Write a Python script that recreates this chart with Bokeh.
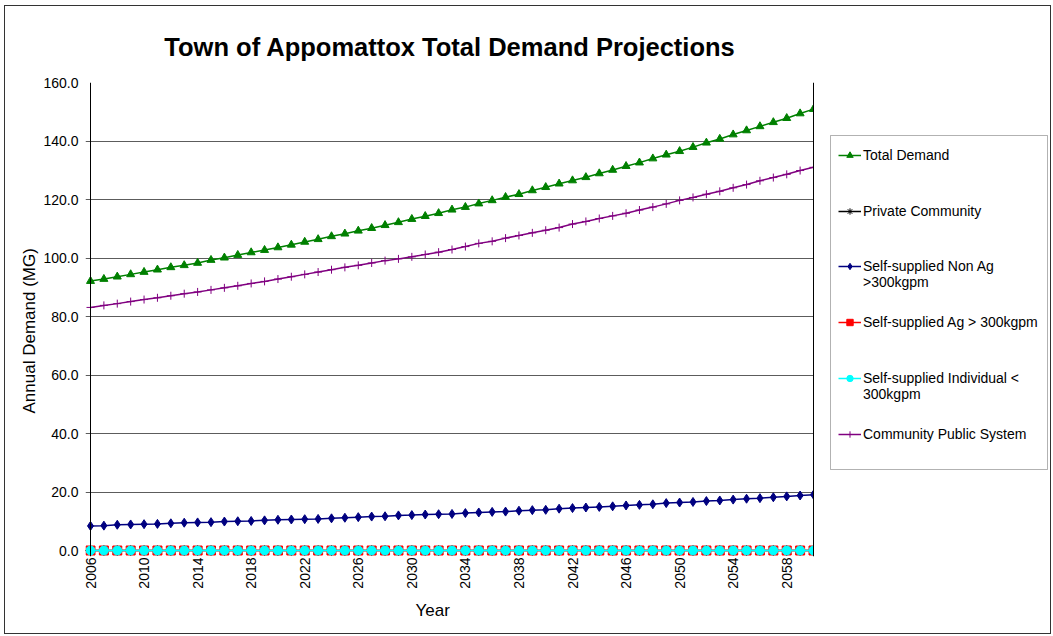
from math import pi

from bokeh.embed import file_html
from bokeh.layouts import row
from bokeh.models import (BoxAnnotation, FixedTicker, Legend, LegendItem,
                          NumeralTickFormatter, Range1d, Span, Title)
from bokeh.plotting import figure
from bokeh.resources import INLINE

# ---- data -----------------------------------------------------------------
years = [2006, 2007, 2008, 2009, 2010, 2011, 2012, 2013, 2014, 2015,
         2016, 2017, 2018, 2019, 2020, 2021, 2022, 2023, 2024, 2025,
         2026, 2027, 2028, 2029, 2030, 2031, 2032, 2033, 2034, 2035,
         2036, 2037, 2038, 2039, 2040, 2041, 2042, 2043, 2044, 2045,
         2046, 2047, 2048, 2049, 2050, 2051, 2052, 2053, 2054, 2055,
         2056, 2057, 2058, 2059, 2060]

total_demand = [92.1, 92.8, 93.6, 94.4, 95.2, 96.0, 96.8, 97.5, 98.3, 99.3,
                100.1, 101.0, 101.9, 102.7, 103.6, 104.5, 105.5, 106.4, 107.4, 108.3,
                109.3, 110.2, 111.2, 112.2, 113.3, 114.3, 115.3, 116.5, 117.4, 118.6,
                119.7, 120.8, 121.8, 123.1, 124.2, 125.4, 126.5, 127.6, 128.9, 130.1,
                131.4, 132.6, 134.0, 135.3, 136.5, 137.9, 139.4, 140.7, 142.2, 143.6,
                145.0, 146.4, 147.8, 149.4, 150.9]

private_community = [0.0] * len(years)

self_non_ag = [8.4, 8.5, 8.8, 8.9, 9.0, 9.1, 9.3, 9.5, 9.6, 9.7,
               9.9, 10.0, 10.1, 10.3, 10.5, 10.6, 10.7, 10.8, 11.0, 11.2,
               11.4, 11.6, 11.7, 12.0, 12.1, 12.3, 12.4, 12.5, 12.8, 13.0,
               13.2, 13.3, 13.6, 13.8, 13.9, 14.3, 14.5, 14.7, 14.9, 15.1,
               15.4, 15.6, 15.8, 16.2, 16.4, 16.6, 16.9, 17.1, 17.4, 17.7,
               17.9, 18.2, 18.5, 18.8, 19.1]

self_ag = [0.0] * len(years)

self_individual = [0.0] * len(years)

community_public = [83.1, 83.8, 84.4, 85.1, 85.8, 86.4, 87.1, 87.8, 88.4, 89.1,
                    89.8, 90.5, 91.3, 92.0, 92.8, 93.6, 94.4, 95.2, 96.0, 96.8,
                    97.5, 98.3, 99.1, 99.7, 100.4, 101.2, 102.0, 102.9, 103.9, 105.0,
                    105.7, 106.8, 107.7, 108.6, 109.5, 110.4, 111.6, 112.5, 113.5, 114.4,
                    115.3, 116.4, 117.4, 118.5, 119.7, 120.7, 121.8, 122.8, 124.0, 125.1,
                    126.4, 127.5, 128.6, 129.9, 131.0]

x_tick_years = [2006, 2010, 2014, 2018, 2022, 2026, 2030, 2034, 2038, 2042,
                2046, 2050, 2054, 2058]
y_ticks = [0, 20, 40, 60, 80, 100, 120, 140, 160]

FONT = "Liberation Sans"

# ---- geometry ---------------------------------------------------------------
# plot area is 723 px wide for the year span and 468 px tall for 0..160;
# the frame is padded a few pixels so edge markers are not cut in half
X0, X1, Y0, Y1 = years[0], years[-1], y_ticks[0], y_ticks[-1]
px_per_year = 723 / (X1 - X0)
px_per_unit = 468 / (Y1 - Y0)
PAD_L, PAD_R, PAD_B = 5, 1, 6
FULL_H = 627
BORDER_T, BORDER_B = 76, 77

p = figure(width=809, height=FULL_H, output_backend="svg", toolbar_location=None,
           x_range=Range1d(X0 - PAD_L / px_per_year, X1 + PAD_R / px_per_year),
           y_range=Range1d(Y0 - PAD_B / px_per_unit, Y1),
           min_border_left=80, min_border_right=0,
           min_border_top=BORDER_T, min_border_bottom=BORDER_B)
p.background_fill_color = "white"
p.border_fill_color = "white"
p.outline_line_color = None

p.add_layout(Title(text="Town of Appomattox Total Demand Projections",
                   text_font=FONT, text_font_size="25.5px", text_font_style="bold",
                   align="center", standoff=44, text_color="black"), "above")

p.xgrid.visible = False
p.ygrid.ticker = FixedTicker(ticks=y_ticks)
p.ygrid.grid_line_color = "#5c5c5c"
p.ygrid.grid_line_width = 1

# y axis: the grid lines poke out past the value axis like tick marks
p.yaxis.ticker = FixedTicker(ticks=y_ticks)
p.yaxis.formatter = NumeralTickFormatter(format="0.0")
p.yaxis.major_tick_out = 0
p.yaxis.major_tick_in = 0
p.yaxis.minor_tick_line_color = None
p.yaxis.major_label_standoff = 7
p.yaxis.axis_line_color = None

# x axis
p.xaxis.ticker = FixedTicker(ticks=x_tick_years)
p.xaxis.major_label_overrides = {y: str(y) for y in x_tick_years}
p.xaxis.major_label_orientation = pi / 2
p.xaxis.major_tick_out = 0
p.xaxis.major_tick_in = 0
p.xaxis.minor_tick_line_color = None
p.xaxis.major_label_standoff = 1
p.xaxis.axis_line_color = None

for ax in (p.xaxis[0], p.yaxis[0]):
    ax.major_label_text_font = FONT
    ax.major_label_text_font_size = "14px"
    ax.major_label_text_color = "black"

# axis titles
p.add_layout(Title(text="Annual Demand (MG)", text_font=FONT, text_font_size="17px",
                   text_font_style="normal", text_color="black",
                   align="left", offset=143, standoff=4), "left")
p.add_layout(Title(text="Year", text_font=FONT, text_font_size="17px",
                   text_font_style="normal", text_color="black",
                   align="left", offset=330, standoff=15), "below")

# axis line at the first year and border at the last year
p.add_layout(Span(location=X0, dimension="height", line_color="black", line_width=1))
p.add_layout(Span(location=X1, dimension="height", line_color="black", line_width=1))

# ---- series -------------------------------------------------------------------
# (legend text split into lines, values, color, marker, marker size)
series = [
    (["Total Demand"], total_demand, "#008000", "triangle", 8),
    (["Private Community"], private_community, "black", "asterisk", 11),
    (["Self-supplied Non Ag", ">300kgpm"], self_non_ag, "#000080", "diamond", 9),
    (["Self-supplied Ag > 300kgpm"], self_ag, "#ff0000", "square", 9),
    (["Self-supplied Individual <", "300kgpm"], self_individual, "#00ffff", "circle", 9),
    (["Community Public System"], community_public, "#800080", "cross", 8),
]

for _, vals, color, marker, size in series:
    p.line(years, vals, line_color=color, line_width=1.5)
    p.scatter(years, vals, marker=marker, size=size,
              fill_color=color, line_color=color, line_width=1)

# ---- legend panel -------------------------------------------------------------
# side plot whose frame spans the same rows as the chart; its ranges are in
# pixels so the legend box and entries can be laid out directly
LG_W = 236
LG_H = FULL_H - BORDER_T - BORDER_B
lg = figure(width=LG_W, height=FULL_H, output_backend="svg", toolbar_location=None,
            x_range=Range1d(0, LG_W), y_range=Range1d(0, LG_H),
            x_axis_type=None, y_axis_type=None,
            min_border_left=0, min_border_right=0,
            min_border_top=BORDER_T, min_border_bottom=BORDER_B)
lg.background_fill_color = "white"
lg.border_fill_color = "white"
lg.outline_line_color = None
lg.grid.visible = False

BOX_L, BOX_R, BOX_T, BOX_B = 16, 233, 53, 387   # box edges, px from frame top-left
lg.add_layout(BoxAnnotation(left=BOX_L, right=BOX_R,
                            top=LG_H - BOX_T, bottom=LG_H - BOX_B,
                            fill_alpha=0, line_color="black", line_width=1))

SLOT = 55.7           # vertical slot per entry
FIRST_LINE = 20       # first text line centre below the box top
LINE_H = 16           # text line height

# the legend swatches reuse the series but lie outside this panel's ranges
hidden = lg.line(years, total_demand, line_alpha=0)
for i, (lines, vals, color, marker, size) in enumerate(series):
    ln = lg.line(years, vals, line_color=color, line_width=1.5)
    mk = lg.scatter(years, vals, marker=marker, size=min(size, 9),
                    fill_color=color, line_color=color, line_width=1)
    for j, text in enumerate(lines):
        centre = BOX_T + FIRST_LINE + i * SLOT + j * LINE_H
        vy = round(LG_H - centre - LINE_H / 2)
        rend = [ln, mk] if j == 0 else [hidden]
        lg.add_layout(Legend(items=[LegendItem(label=text, renderers=rend)],
                             location=(BOX_L + 8, vy), padding=0, margin=0, spacing=0,
                             glyph_width=23, glyph_height=LINE_H,
                             label_height=LINE_H, label_standoff=2,
                             label_text_font=FONT, label_text_font_size="14px",
                             label_text_color="black",
                             border_line_color=None, background_fill_alpha=0))

# chart border sits a few pixels inside the page edge
layout = row(p, lg)
layout.styles = {"border": "1px solid #333333", "margin": "5px 2px 2px 4px"}

open("out.html", "w").write(file_html(layout, INLINE))
